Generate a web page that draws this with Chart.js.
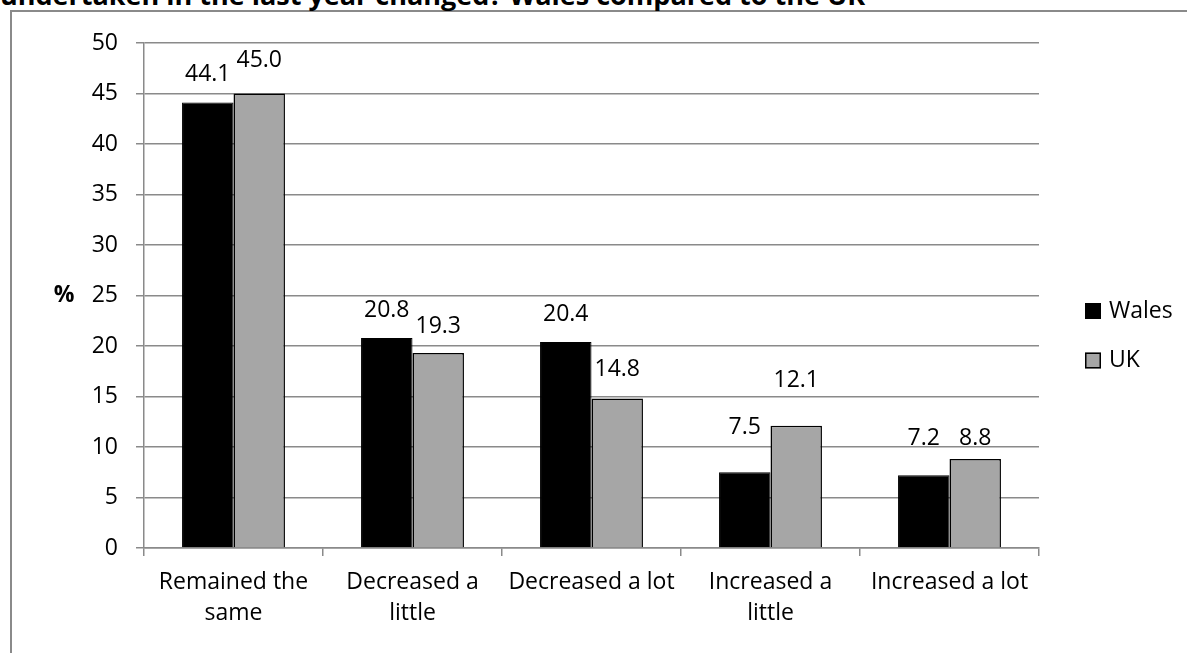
<!DOCTYPE html>
<html><head><meta charset="utf-8">
<script src="https://cdn.jsdelivr.net/npm/chart.js@4/dist/chart.umd.min.js"></script>
<style>
html,body{margin:0;padding:0;background:#fff;overflow:hidden;}
#wrap{position:relative;width:1187px;height:653px;overflow:hidden;background:#fff;}
#frame{position:absolute;left:10px;top:10px;width:1400px;height:900px;border:2px solid #8a8a8a;box-sizing:border-box;}
#title{position:absolute;left:0;top:-19px;font:bold 27px 'Open Sans';line-height:1;white-space:nowrap;color:#000;}
canvas{position:absolute;left:0;top:0;}
</style></head><body>
<div id="wrap"><div id="frame"></div><div id="title">undertaken in the last year changed? Wales compared to the UK</div><canvas id="c" width="1187" height="653"></canvas></div>
<script>
const categories = [["Remained the","same"],["Decreased a","little"],"Decreased a lot",["Increased a","little"],"Increased a lot"];
const walesValues = [44.1, 20.8, 20.4, 7.5, 7.2];
const ukValues = [45.0, 19.3, 14.8, 12.1, 8.8];
const seriesNames = ["Wales", "UK"];
const yAxisLabel = "%";

const FONT = "'Open Sans'";
const FS = 23;
const labelPlugin = {
  id: 'vals',
  afterDatasetsDraw(chart, args, opts) {
    const ctx = chart.ctx;
    ctx.save();
    ctx.font = FS + 'px ' + FONT;
    ctx.fillStyle = '#000';
    ctx.textAlign = 'center';
    ctx.textBaseline = 'middle';
    chart.data.datasets.forEach((ds, i) => {
      chart.getDatasetMeta(i).data.forEach((bar, j) => {
        ctx.fillText(ds.data[j].toFixed(1), bar.x, bar.y - opts.offsets[i][j]);
      });
    });
    // y axis label
    const ys = chart.scales.y;
    ctx.font = 'bold ' + FS + 'px ' + FONT;
    ctx.fillText(yAxisLabel, 64, ys.getPixelForValue(25));
    // legend
    ctx.font = FS + 'px ' + FONT;
    ctx.textAlign = 'left';
    const cy = [311, 360.5];
    chart.data.datasets.forEach((ds, i) => {
      ctx.fillStyle = ds.backgroundColor;
      ctx.fillRect(1085, cy[i] - 8, 16, 16);
      ctx.lineWidth = 1.5;
      ctx.strokeStyle = '#000';
      ctx.strokeRect(1085.75, cy[i] - 7.25, 14.5, 14.5);
      ctx.fillStyle = '#000';
      ctx.fillText(ds.label, 1109, cy[i]);
    });
    ctx.restore();
  }
};

new Chart(document.getElementById('c'), {
  type: 'bar',
  data: {
    labels: categories,
    datasets: [
      { label: seriesNames[0], data: walesValues, backgroundColor: '#000000', borderColor: '#000000', borderWidth: 1 },
      { label: seriesNames[1], data: ukValues, backgroundColor: '#a6a6a6', borderColor: '#000000', borderWidth: 1.5 }
    ]
  },
  options: {
    responsive: false,
    animation: false,
    layout: { padding: { left: 0, top: 43, right: 148, bottom: 0 } },
    datasets: { bar: { categoryPercentage: 0.575, barPercentage: 1 } },
    plugins: {
      legend: { display: false },
      tooltip: { enabled: false },
      vals: { offsets: [[28, 27, 28, 44.4, 37], [32.7, 27, 29, 45, 21]] }
    },
    scales: {
      x: {
        grid: { drawOnChartArea: false, drawTicks: true, tickLength: 8, color: '#8a8a8a', lineWidth: 1.5 },
        border: { color: '#8a8a8a', width: 1.5 },
        ticks: { color: '#000', font: { family: FONT, size: FS, lineHeight: 1.35 }, padding: 11, maxRotation: 0, autoSkip: false },
        afterFit(s) { s.height = 105; }
      },
      y: {
        min: 0, max: 50,
        grid: { color: '#8a8a8a', lineWidth: 1.5, tickLength: 8 },
        border: { color: '#8a8a8a', width: 1.5 },
        ticks: { stepSize: 5, color: '#000', font: { family: FONT, size: FS }, padding: 18 },
        afterFit(s) { s.width = 144; }
      }
    }
  },
  plugins: [labelPlugin]
});
</script>
</body></html>
